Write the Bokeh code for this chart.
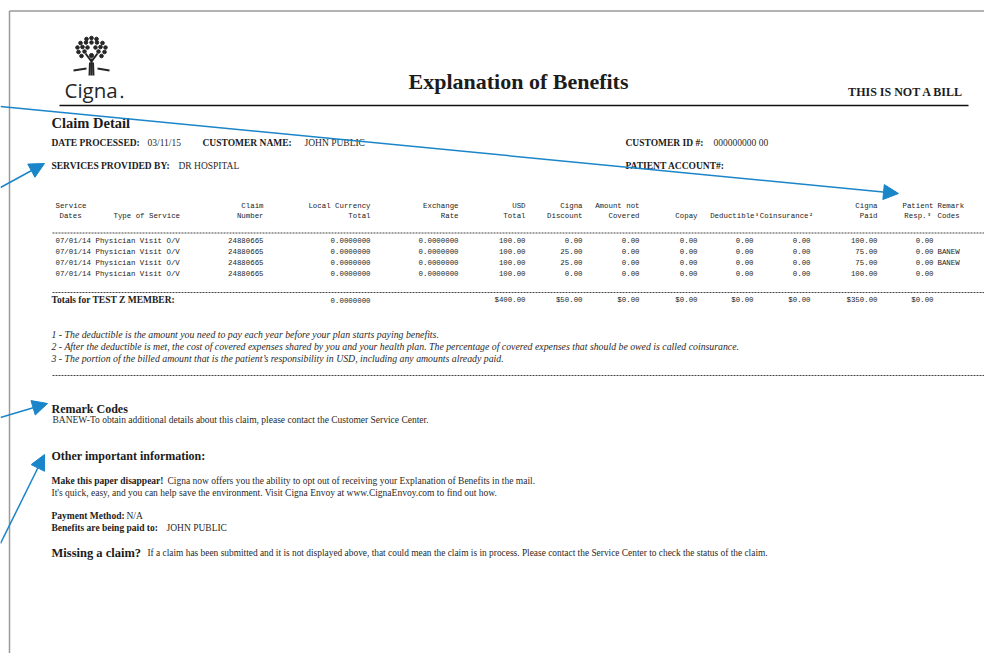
from bokeh.plotting import figure
from bokeh.models import ColumnDataSource, Range1d, Arrow, NormalHead
from bokeh.core.properties import value
from bokeh.embed import file_html
from bokeh.resources import INLINE

# ---------------- data ----------------
service_dates = ["07/01/14", "07/01/14", "07/01/14", "07/01/14"]
service_types = ["Physician Visit O/V", "Physician Visit O/V", "Physician Visit O/V", "Physician Visit O/V"]
claim_numbers = ["24880665", "24880665", "24880665", "24880665"]
local_currency_total = [0.0, 0.0, 0.0, 0.0]
exchange_rate = [0.0, 0.0, 0.0, 0.0]
usd_total = [100.00, 100.00, 100.00, 100.00]
cigna_discount = [0.00, 25.00, 25.00, 0.00]
amount_not_covered = [0.00, 0.00, 0.00, 0.00]
copay = [0.00, 0.00, 0.00, 0.00]
deductible = [0.00, 0.00, 0.00, 0.00]
coinsurance = [0.00, 0.00, 0.00, 0.00]
cigna_paid = [100.00, 75.00, 75.00, 100.00]
patient_resp = [0.00, 0.00, 0.00, 0.00]
remark_codes = ["", "BANEW", "BANEW", ""]

header_top = ["Service", "", "Claim", "Local Currency", "Exchange", "USD", "Cigna",
              "Amount not", "", "", "", "Cigna", "Patient", "Remark"]
header_bottom = ["Dates", "Type of Service", "Number", "Total", "Rate", "Total", "Discount",
                 "Covered", "Copay", "Deductible", "Coinsurance", "Paid", "Resp.", "Codes"]
header_marks = ["", "", "", "", "", "", "", "", "", "1", "2", "", "3", ""]

footnotes = [
    "1 - The deductible is the amount you need to pay each year before your plan starts paying benefits.",
    "2 - After the deductible is met, the cost of covered expenses shared by you and your health plan.  The percentage of covered expenses that should be owed is called coinsurance.",
    "3 - The portion of the billed amount that is the patient\u2019s responsibility in USD, including any amounts already paid.",
]

# ---------------- figure (data units = page pixels) ----------------
W, H = 984, 653
p = figure(width=W, height=H, x_range=Range1d(0, W), y_range=Range1d(H, 0),
           output_backend="svg", toolbar_location=None, min_border=0,
           x_axis_location=None, y_axis_location=None)
p.grid.visible = False
p.outline_line_color = None
p.background_fill_color = "white"
p.border_fill_color = "white"

SERIF = "Liberation Serif"
MONO = "Liberation Mono"
SANS = "Open Sans"
INK = "#1c1c1c"
GREY = "#2a2a2a"
BLUE = "#1a85c9"
BODY = 9.5


def txt(x, y, s, size, font=SERIF, style="normal", align="left", color=INK, baseline="middle"):
    p.text(x=[x], y=[y], text=[s], text_font=value(font), text_font_size=f"{size}px",
           text_font_style=style, text_align=align, text_baseline=baseline, text_color=color)


# page frame
p.line(x=[9, 9], y=[H, 10.5], line_color="#9a9a9a", line_width=1.5)
p.line(x=[9, W], y=[10.5, 10.5], line_color="#9a9a9a", line_width=1.5)

# ---------------- logo ----------------
LOGO = "#262626"
leaf_x = [86, 91, 96, 80, 85.5, 91, 96.5, 102, 77, 82, 87, 95, 100, 105, 78, 84, 98, 104, 81, 101]
leaf_y = [38.5, 37.5, 38.5, 42.5, 42, 42, 42, 42.5, 47, 46.5, 47, 47, 46.5, 47, 51.5, 51, 51, 51.5, 55.5, 55.5]
p.scatter(x=leaf_x, y=leaf_y, size=3.6, marker="circle", color=LOGO)
p.scatter(x=[91], y=[55], size=4.2, marker="circle", color=LOGO)
p.segment(x0=[91, 91, 91, 89.5, 92.5, 73, 97], y0=[58, 61, 61, 62, 62, 70, 68],
          x1=[91, 85, 97, 89, 93, 86, 109], y1=[75, 53, 53, 75, 75, 68, 70],
          line_color=LOGO, line_width=2)
txt(64, 89.5, "Cigna", 20.5, font=SANS, color=LOGO)
p.scatter(x=[121.5], y=[96.5], size=1.8, marker="circle", color=LOGO)

# ---------------- header ----------------
txt(518, 80.5, "Explanation of Benefits", 22, style="bold", align="center")
txt(963, 91, "THIS IS NOT A BILL", 12, style="bold", align="right")
p.line(x=[59, 968], y=[105, 105], line_color="#111111", line_width=1.5)

txt(51, 122, "Claim Detail", 14.5, style="bold")
txt(51, 142, "DATE PROCESSED:", 9.5, style="bold")
txt(147, 142, "03/11/15", 9.5, color=GREY)
txt(202, 142, "CUSTOMER NAME:", 9.5, style="bold")
txt(304, 142, "JOHN PUBLIC", 9.5, color=GREY)
txt(625, 142, "CUSTOMER ID #:", 9.5, style="bold")
txt(713, 142, "000000000 00", 9.5, color=GREY)
txt(51, 165, "SERVICES PROVIDED BY:", 9.5, style="bold")
txt(178, 165, "DR HOSPITAL", 9.5, color=GREY)
txt(625, 165, "PATIENT ACCOUNT#:", 9.5, style="bold")

# ---------------- table ----------------
MS = "7.4px"
col_align = ["left", "left"] + ["right"] * 11 + ["left"]
hx_top = [55, 113, 263, 370, 458, 525, 582, 639, 697, 756, 809, 877, 933, 937]
hx_bot = [59, 113, 263, 370, 458, 525, 582, 639, 697, 754, 808, 877, 926, 937]
for i in range(len(header_top)):
    if header_top[i]:
        p.text(x=[hx_top[i]], y=[205], text=[header_top[i]], text_font=value(MONO), text_font_size=MS,
               text_align=col_align[i], text_baseline="middle", text_color=INK)
    p.text(x=[hx_bot[i]], y=[215.5], text=[header_bottom[i]], text_font=value(MONO), text_font_size=MS,
           text_align=col_align[i], text_baseline="middle", text_color=INK)
    if header_marks[i]:
        p.text(x=[hx_bot[i] + 1.2], y=[214], text=[header_marks[i]], text_font=value(SERIF),
               text_font_size="5px", text_font_style="bold", text_align="left",
               text_baseline="middle", text_color=INK)

p.line(x=[52, W], y=[232.5, 232.5], line_color="#444444", line_width=1, line_dash="2 1")

row_y = [240 + 11 * i for i in range(len(service_dates))]
f2 = lambda v: [f"{a:.2f}" for a in v]
f7 = lambda v: [f"{a:.7f}" for a in v]
table_cols = [
    (55, "left", service_dates),
    (95, "left", service_types),
    (263, "right", claim_numbers),
    (370, "right", f7(local_currency_total)),
    (458, "right", f7(exchange_rate)),
    (525, "right", f2(usd_total)),
    (582, "right", f2(cigna_discount)),
    (639, "right", f2(amount_not_covered)),
    (697, "right", f2(copay)),
    (753, "right", f2(deductible)),
    (810, "right", f2(coinsurance)),
    (877, "right", f2(cigna_paid)),
    (933, "right", f2(patient_resp)),
    (937, "left", remark_codes),
]
for x, al, vals in table_cols:
    src = ColumnDataSource(dict(x=[x] * len(vals), y=row_y, t=vals))
    p.text(x="x", y="y", text="t", source=src, text_font=value(MONO), text_font_size=MS,
           text_align=al, text_baseline="middle", text_color=INK)

p.line(x=[52, W], y=[292, 292], line_color="#444444", line_width=1, line_dash="2 1")

txt(51, 299.5, "Totals for TEST Z MEMBER:", 9.5, style="bold")
money = lambda v: f"${sum(v):.2f}"
totals = [
    (370, f"{sum(local_currency_total):.7f}"),
    (525, money(usd_total)), (582, money(cigna_discount)), (639, money(amount_not_covered)),
    (697, money(copay)), (753, money(deductible)), (810, money(coinsurance)),
    (877, money(cigna_paid)), (933, money(patient_resp)),
]
src_t = ColumnDataSource(dict(x=[t[0] for t in totals], y=[299.5] * len(totals), t=[t[1] for t in totals]))
p.text(x="x", y="y", text="t", source=src_t, text_font=value(MONO), text_font_size=MS,
       text_align="right", text_baseline="middle", text_color=INK)

# ---------------- footnotes ----------------
for i, fn in enumerate(footnotes):
    txt(51, 334 + 12 * i, fn, 9.8, style="italic", color=GREY)
p.line(x=[52, W], y=[375, 375], line_color="#444444", line_width=1, line_dash="2 1")

# ---------------- remark codes & other info ----------------
txt(51, 408, "Remark Codes", 12, style="bold")
txt(52, 419.5, "BANEW-To obtain additional details about this claim, please contact the Customer Service Center.", BODY, color=GREY)

txt(51, 455, "Other important information:", 12, style="bold")
txt(51, 480, "Make this paper disappear!", BODY, style="bold")
txt(167, 480, "Cigna now offers you the ability to opt out of receiving your Explanation of Benefits in the mail.", BODY, color=GREY)
txt(51, 492, "It's quick, easy, and you can help save the environment. Visit Cigna Envoy at www.CignaEnvoy.com to find out how.", BODY, color=GREY)
txt(51, 515, "Payment Method:", BODY, style="bold")
txt(126, 515, "N/A", BODY, color=GREY)
txt(51, 527, "Benefits are being paid to:", BODY, style="bold")
txt(166, 527, "JOHN PUBLIC", BODY, color=GREY)
txt(51, 552, "Missing a claim?", 12.5, style="bold")
txt(147, 552, "If a claim has been submitted and it is not displayed above, that could mean the claim is in process. Please contact the Service Center to check the status of the claim.", 9.4, color=GREY)

# ---------------- callout arrows ----------------
for xs, ys, xe, ye in [(0, 106, 898, 193), (0, 187, 44, 163), (0, 417, 47, 403), (0, 543, 44, 454)]:
    p.add_layout(Arrow(end=NormalHead(size=15, fill_color=BLUE, line_color=BLUE),
                       x_start=xs, y_start=ys, x_end=xe, y_end=ye,
                       line_color=BLUE, line_width=1.5))

open("out.html", "w").write(file_html(p, INLINE))
